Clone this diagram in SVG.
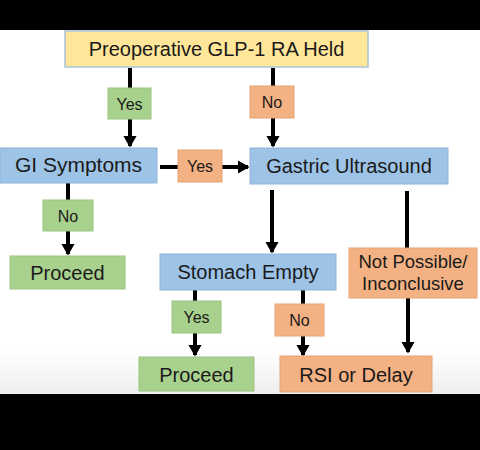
<svg xmlns="http://www.w3.org/2000/svg" width="480" height="450" viewBox="0 0 480 450">
<defs>
<style>
.t{font-family:"Liberation Sans",Arial,sans-serif;fill:#1a1a1a;text-anchor:middle}
.big{font-size:20px}
.sm{font-size:16px}
.blue{fill:#9DC3E6;stroke:#8FB4D6;stroke-width:1}
.green{fill:#A9D18E;stroke:#9CC482;stroke-width:1}
.orange{fill:#F4B183;stroke:#E6A476;stroke-width:1}
.yellow{fill:#FFE699;stroke:#A9C4D9;stroke-width:1.5}
.ln{stroke:#000;stroke-width:4;fill:none}
</style>
<marker id="ah" markerWidth="4" markerHeight="4" refX="2.6" refY="2" orient="auto" markerUnits="strokeWidth">
<path d="M0,0.3 L3,2 L0,3.7 Z" fill="#000"/>
</marker>
<linearGradient id="bg" x1="0" y1="0" x2="0" y2="1">
<stop offset="0.88" stop-color="#fff"/>
<stop offset="1" stop-color="#eeeeee"/>
</linearGradient>
</defs>
<rect x="0" y="0" width="480" height="450" fill="#000"/>
<rect x="0" y="30" width="480" height="364" fill="url(#bg)"/>

<g id="connectors">
<line class="ln" x1="130" y1="68" x2="130" y2="88"/>
<line class="ln" x1="130" y1="119" x2="130" y2="146" marker-end="url(#ah)"/>
<line class="ln" x1="273" y1="68" x2="273" y2="86"/>
<line class="ln" x1="273" y1="118" x2="273" y2="146" marker-end="url(#ah)"/>
<line class="ln" x1="160" y1="167" x2="178" y2="167"/>
<line class="ln" x1="222" y1="167" x2="248" y2="167" marker-end="url(#ah)"/>
<line class="ln" x1="68" y1="183" x2="68" y2="200"/>
<line class="ln" x1="68" y1="231" x2="68" y2="254" marker-end="url(#ah)"/>
<line class="ln" x1="272" y1="190" x2="272" y2="252" marker-end="url(#ah)"/>
<line class="ln" x1="407" y1="191" x2="407" y2="248"/>
<line class="ln" x1="195" y1="290" x2="195" y2="301"/>
<line class="ln" x1="195" y1="333" x2="195" y2="355" marker-end="url(#ah)"/>
<line class="ln" x1="303" y1="290" x2="303" y2="304"/>
<line class="ln" x1="303" y1="336" x2="303" y2="355" marker-end="url(#ah)"/>
<line class="ln" x1="408" y1="298" x2="408" y2="352" marker-end="url(#ah)"/>
</g>

<g id="held">
<rect class="yellow" x="65" y="31" width="303" height="36"/>
<text class="t big" x="216.5" y="56">Preoperative GLP-1 RA Held</text>
</g>
<g id="yes1">
<rect class="green" x="108" y="88" width="43" height="31"/>
<text class="t sm" x="129.5" y="109.5">Yes</text>
</g>
<g id="no1">
<rect class="orange" x="250" y="86" width="44" height="32"/>
<text class="t sm" x="272" y="107.5">No</text>
</g>
<g id="gi">
<rect class="blue" x="0" y="148" width="157" height="35"/>
<text class="t big" x="78.5" y="172" style="font-size:21px">GI Symptoms</text>
</g>
<g id="yes2">
<rect class="orange" x="178" y="150" width="44" height="32"/>
<text class="t sm" x="200" y="171.5">Yes</text>
</g>
<g id="gastric">
<rect class="blue" x="250" y="148" width="198" height="36"/>
<text class="t big" x="349" y="173">Gastric Ultrasound</text>
</g>
<g id="no2">
<rect class="green" x="43" y="200" width="50" height="31"/>
<text class="t sm" x="68" y="221.5">No</text>
</g>
<g id="proceed1">
<rect class="green" x="10" y="256" width="115" height="33"/>
<text class="t big" x="67.5" y="280">Proceed</text>
</g>
<g id="empty">
<rect class="blue" x="160" y="254" width="176" height="36"/>
<text class="t big" x="248" y="279">Stomach Empty</text>
</g>
<g id="notpossible">
<rect class="orange" x="349" y="248" width="128" height="50"/>
<text class="t" x="413" y="268" style="font-size:18.5px">Not Possible/</text>
<text class="t" x="413" y="290" style="font-size:18.5px">Inconclusive</text>
</g>
<g id="yes3">
<rect class="green" x="172" y="301" width="49" height="32"/>
<text class="t sm" x="196.5" y="322.5">Yes</text>
</g>
<g id="no3">
<rect class="orange" x="275" y="304" width="49" height="32"/>
<text class="t sm" x="299.5" y="325.5">No</text>
</g>
<g id="proceed2">
<rect class="green" x="139" y="357" width="115" height="34"/>
<text class="t big" x="196.5" y="382">Proceed</text>
</g>
<g id="rsi">
<rect class="orange" x="280" y="356" width="152" height="36"/>
<text class="t big" x="356" y="382">RSI or Delay</text>
</g>
</svg>
